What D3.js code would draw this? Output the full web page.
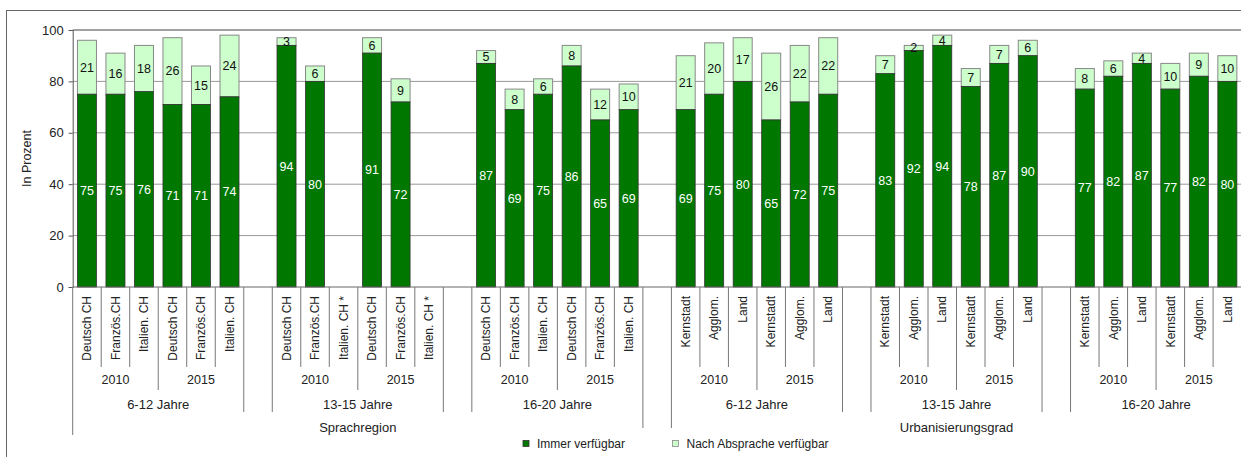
<!DOCTYPE html>
<html>
<head>
<meta charset="utf-8">
<script src="https://cdn.jsdelivr.net/npm/d3@7"></script>
<style>
  html, body { margin: 0; padding: 0; background: #fff; }
  svg { display: block; font-family: "Liberation Sans", Arial, sans-serif; }
</style>
</head>
<body>
<svg id="chart" width="1241" height="457"></svg>
<script>
// Verfügbarkeit nach Sprachregion und Urbanisierungsgrad, Anteile in Prozent
const groupLabels = ["Sprachregion", "Urbanisierungsgrad"];
const ageLabels = ["6-12 Jahre", "13-15 Jahre", "16-20 Jahre"];
const yearLabels = ["2010", "2015"];
const categoryLabels = [
  "Deutsch CH", "Französ.CH", "Italien. CH", "Deutsch CH", "Französ.CH", "Italien. CH",
  "Deutsch CH", "Französ.CH", "Italien. CH *", "Deutsch CH", "Französ.CH", "Italien. CH *",
  "Deutsch CH", "Französ.CH", "Italien. CH", "Deutsch CH", "Französ.CH", "Italien. CH",
  "Kernstadt", "Agglom.", "Land", "Kernstadt", "Agglom.", "Land",
  "Kernstadt", "Agglom.", "Land", "Kernstadt", "Agglom.", "Land",
  "Kernstadt", "Agglom.", "Land", "Kernstadt", "Agglom.", "Land"
];
const immerValues = [
  75, 75, 76, 71, 71, 74,
  94, 80, null, 91, 72, null,
  87, 69, 75, 86, 65, 69,
  69, 75, 80, 65, 72, 75,
  83, 92, 94, 78, 87, 90,
  77, 82, 87, 77, 82, 80
];
const abspracheValues = [
  21, 16, 18, 26, 15, 24,
  3, 6, null, 6, 9, null,
  5, 8, 6, 8, 12, 10,
  21, 20, 17, 26, 22, 22,
  7, 2, 4, 7, 7, 6,
  8, 6, 4, 10, 9, 10
];
const yTicks = [0, 20, 40, 60, 80, 100];
const seriesNames = ["Immer verfügbar", "Nach Absprache verfügbar"];

const colorImmer = "#007800";
const colorAbsprache = "#ccffcc";

const svg = d3.select("#chart");
const W = 1241;

// one empty slot separates consecutive age blocks
const perAge = 6;
const nBlocks = groupLabels.length * ageLabels.length;
const nSlots = nBlocks * perAge + (nBlocks - 1);
const slotOf = i => i + Math.floor(i / perAge);

const x = d3.scaleBand().domain(d3.range(nSlots)).range([72.7, 72.7 + nSlots * 28.51]).padding(0);
const y = d3.scaleLinear().domain([0, 100]).range([287, 30]);
const bw = x.bandwidth();
const barW = bw * 0.667;

// outer frame (top and left edges visible)
svg.append("line").attr("x1", 6).attr("x2", W).attr("y1", 10.5).attr("y2", 10.5)
  .attr("stroke", "#666").attr("stroke-width", 1);
svg.append("line").attr("x1", 6.5).attr("x2", 6.5).attr("y1", 10).attr("y2", 457)
  .attr("stroke", "#666").attr("stroke-width", 1);

// gridlines
const plotL = x.range()[0], plotR = x.range()[1];
svg.append("g").selectAll("line").data(yTicks.filter(t => t > 0 && t < 100)).join("line")
  .attr("x1", plotL).attr("x2", plotR)
  .attr("y1", d => y(d)).attr("y2", d => y(d))
  .attr("stroke", "#999").attr("stroke-width", 1);
svg.append("line").attr("x1", plotL).attr("x2", plotR).attr("y1", y(100)).attr("y2", y(100))
  .attr("stroke", "#444").attr("stroke-width", 1);

// y axis
const yAxis = d3.axisLeft(y).tickValues(yTicks).tickSize(4).tickPadding(5);
const gy = svg.append("g").attr("transform", `translate(${plotL},0)`).call(yAxis);
gy.select(".domain").attr("stroke", "#555");
gy.selectAll(".tick line").attr("stroke", "#555");
gy.selectAll(".tick text").attr("font-size", 13).attr("fill", "#222")
  .attr("font-family", "Liberation Sans, Arial, sans-serif");

svg.append("text")
  .attr("transform", `translate(31,${(y(0) + y(100)) / 2}) rotate(-90)`)
  .attr("text-anchor", "middle").attr("font-size", 12.5).attr("fill", "#222")
  .text("In Prozent");

// bars
const bars = categoryLabels.map((c, i) => ({
  i, slot: slotOf(i), immer: immerValues[i], abs: abspracheValues[i]
})).filter(d => d.immer != null);

const gBars = svg.append("g");
gBars.selectAll("rect.abs").data(bars).join("rect").attr("class", "abs")
  .attr("x", d => x(d.slot) + (bw - barW) / 2)
  .attr("width", barW)
  .attr("y", d => y(d.immer + d.abs))
  .attr("height", d => y(d.immer) - y(d.immer + d.abs))
  .attr("fill", colorAbsprache).attr("stroke", "#888").attr("stroke-width", 1);
gBars.selectAll("rect.immer").data(bars).join("rect").attr("class", "immer")
  .attr("x", d => x(d.slot) + (bw - barW) / 2)
  .attr("width", barW)
  .attr("y", d => y(d.immer))
  .attr("height", d => y(0) - y(d.immer))
  .attr("fill", colorImmer).attr("stroke", "#333").attr("stroke-width", 0.8);

// value labels
gBars.selectAll("text.vi").data(bars).join("text").attr("class", "vi")
  .attr("x", d => x(d.slot) + bw / 2)
  .attr("y", d => y(d.immer / 2))
  .attr("dy", "0.35em").attr("text-anchor", "middle")
  .attr("font-size", 12.5).attr("fill", "#fff")
  .text(d => d.immer);
gBars.selectAll("text.va").data(bars).join("text").attr("class", "va")
  .attr("x", d => x(d.slot) + bw / 2)
  .attr("y", d => y(d.immer + d.abs / 2))
  .attr("dy", "0.35em").attr("text-anchor", "middle")
  .attr("font-size", 12.5).attr("fill", "#111")
  .text(d => d.abs);

// x axis baseline
svg.append("line").attr("x1", plotL).attr("x2", plotR).attr("y1", y(0)).attr("y2", y(0))
  .attr("stroke", "#666").attr("stroke-width", 1);

// hierarchical category axis
const gx = svg.append("g");
const sepColor = "#777";
const edge = s => x(s);              // left edge of slot
const rightEdge = s => x(s) + bw;    // right edge of slot

// category labels
gx.selectAll("text.cat").data(categoryLabels).join("text").attr("class", "cat")
  .attr("transform", (d, i) => `translate(${x(slotOf(i)) + bw / 2},296) rotate(-90)`)
  .attr("text-anchor", "end").attr("dy", "0.35em")
  .attr("font-size", 12).attr("fill", "#222")
  .text(d => d);

// separators between categories inside a year block
const sepLines = [];
categoryLabels.forEach((c, i) => {
  const k = i % 3;
  if (k > 0) sepLines.push({ x: edge(slotOf(i)), y2: 367 });
});
// separators between years
for (let b = 0; b < nBlocks; b++) {
  sepLines.push({ x: edge(slotOf(b * perAge + 3)), y2: 390 });
}
// age block edges
for (let b = 0; b < nBlocks; b++) {
  const first = slotOf(b * perAge), last = slotOf(b * perAge + perAge - 1);
  const isGroupStart = b % ageLabels.length === 0;
  const isGroupEnd = b % ageLabels.length === ageLabels.length - 1;
  sepLines.push({ x: edge(first), y2: isGroupStart ? (b === 0 ? 435 : 428) : 412 });
  if (!isGroupEnd) sepLines.push({ x: rightEdge(last), y2: 412 });
  else if (b < nBlocks - 1) sepLines.push({ x: rightEdge(last), y2: 428 });
}
gx.selectAll("line.sep").data(sepLines).join("line").attr("class", "sep")
  .attr("x1", d => d.x).attr("x2", d => d.x)
  .attr("y1", y(0)).attr("y2", d => d.y2)
  .attr("stroke", sepColor).attr("stroke-width", 1);

// year labels
const yearData = [];
for (let b = 0; b < nBlocks; b++) {
  yearLabels.forEach((yr, j) => {
    const a = slotOf(b * perAge + j * 3), e = slotOf(b * perAge + j * 3 + 2);
    yearData.push({ t: yr, cx: (edge(a) + rightEdge(e)) / 2 });
  });
}
gx.selectAll("text.yr").data(yearData).join("text").attr("class", "yr")
  .attr("x", d => d.cx).attr("y", 380).attr("dy", "0.35em")
  .attr("text-anchor", "middle").attr("font-size", 12.5).attr("fill", "#222")
  .text(d => d.t);

// age labels
const ageData = d3.range(nBlocks).map(b => {
  const a = slotOf(b * perAge), e = slotOf(b * perAge + perAge - 1);
  return { t: ageLabels[b % ageLabels.length], cx: (edge(a) + rightEdge(e)) / 2 };
});
gx.selectAll("text.age").data(ageData).join("text").attr("class", "age")
  .attr("x", d => d.cx).attr("y", 404.5).attr("dy", "0.35em")
  .attr("text-anchor", "middle").attr("font-size", 13).attr("fill", "#222")
  .text(d => d.t);

// group labels
const groupData = groupLabels.map((g, gi) => {
  const a = slotOf(gi * ageLabels.length * perAge);
  const e = slotOf((gi + 1) * ageLabels.length * perAge - 1);
  return { t: g, cx: (edge(a) + rightEdge(e)) / 2 };
});
gx.selectAll("text.grp").data(groupData).join("text").attr("class", "grp")
  .attr("x", d => d.cx).attr("y", 427).attr("dy", "0.35em")
  .attr("text-anchor", "middle").attr("font-size", 13).attr("fill", "#222")
  .text(d => d.t);

// legend
const legend = svg.append("g");
const legendItems = [
  { name: seriesNames[0], fill: colorImmer, stroke: "#333", x: 523 },
  { name: seriesNames[1], fill: colorAbsprache, stroke: "#888", x: 672.5 }
];
legendItems.forEach(it => {
  legend.append("rect").attr("x", it.x).attr("y", 440.5).attr("width", 6).attr("height", 6)
    .attr("fill", it.fill).attr("stroke", it.stroke).attr("stroke-width", 0.8);
  legend.append("text").attr("x", it.x + 14).attr("y", 443.5).attr("dy", "0.35em")
    .attr("font-size", 12).attr("fill", "#222").text(it.name);
});
</script>
</body>
</html>
